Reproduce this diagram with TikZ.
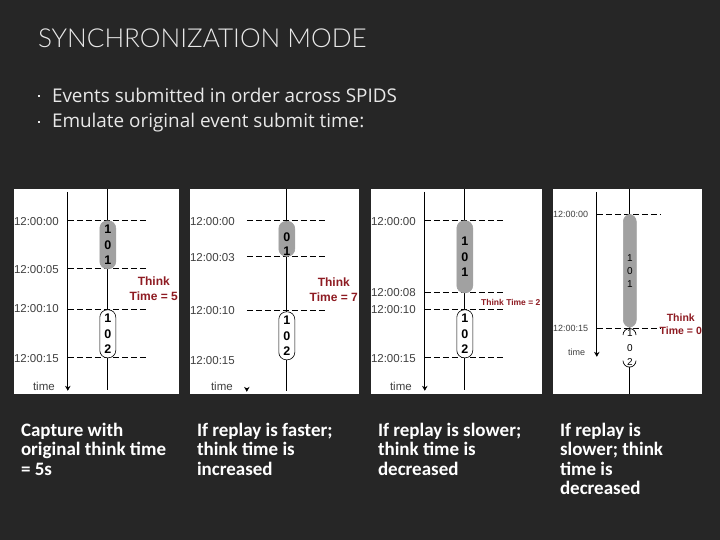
\documentclass[tikz,border=0pt]{standalone}
\usepackage{fontspec}
\setmainfont{Carlito}
\newfontfamily\titlefont{Lato Light}
\newfontfamily\bodyfont{Open Sans}
\newfontfamily\labelfont{Liberation Sans}
\usetikzlibrary{positioning}
\usetikzlibrary{arrows.meta}
\definecolor{slidebg}{HTML}{262626}
\definecolor{slidefg}{HTML}{E8E8E8}
\definecolor{thinkred}{HTML}{8E1B22}
\tikzstyle{panel}=[draw=none,fill=white,inner sep=0mm,anchor=north west]
\tikzstyle{clock}=[inner sep=0mm,anchor=west,font=\labelfont\fontsize{11.5}{12}\selectfont,text=black!75]
\tikzstyle{job}=[rectangle,rounded corners=7.5pt,draw=black,line width=0.6pt,inner sep=0mm,minimum width=16pt,font=\labelfont\bfseries\fontsize{12.5}{15.5}\selectfont,align=center]
\tikzstyle{busy}=[job,fill=black!37,draw=black!37]
\tikzstyle{idle}=[job,fill=white]
\tikzstyle{think}=[inner sep=0mm,align=center,font=\labelfont\bfseries\fontsize{12}{15}\selectfont,text=thinkred]
\tikzstyle{caption}=[inner sep=0mm,anchor=north west,align=left,font=\fontsize{19}{19.5}\selectfont\bfseries,text=white]
\tikzstyle{point}=[inner sep=0mm,anchor=west,text=slidefg,font=\bodyfont\fontsize{18.9}{21}\selectfont]
\tikzstyle{tick}=[dash pattern=on 6pt off 3pt,line width=0.7pt]
\tikzstyle{axis}=[-{Stealth[length=5pt,width=5.5pt]},line width=0.7pt]
\tikzstyle{wire}=[line width=0.7pt]
\begin{document}
\begin{tikzpicture}[x=1pt,y=-1pt]
    \node[inner sep=0mm,minimum width=720pt,minimum height=540pt,fill=slidebg,anchor=north west] at (0,0) (slide) {};
    \node[inner sep=0mm,anchor=west,text=slidefg,font=\titlefont\fontsize{26.1}{30}\selectfont] at (38,38.5) (title) {SYNCHRONIZATION MODE};
    \node[point] at (52,96) (point1) {Events submitted in order across SPIDS};
    \node[point] at (52,122.5) (point2) {Emulate original event submit time:};
    \node[rectangle,fill=slidefg,inner sep=0mm,minimum size=2.5pt] at (39,96) (bullet1) {};
    \node[rectangle,fill=slidefg,inner sep=0mm,minimum size=2.5pt] at (39,122) (bullet2) {};

    % capture
    \node[panel,minimum width=165pt,minimum height=205pt] at (14,189) (panelA) {};
    \coordinate (axisAtop) at (68,192);
    \coordinate (axisAend) at (68,391);
    \coordinate (wireAtop) at (108,189);
    \coordinate (wireAend) at (108,390);
    \draw[axis] (axisAtop) -- (axisAend);
    \draw[wire] (wireAtop) -- (wireAend);
    \foreach \name/\y in {a/221,b/269,c/310,d/358}{
      \coordinate (tickA\name) at (68,\y);
      \coordinate (endA\name) at (147,\y);
      \draw[tick] (tickA\name) -- (endA\name);
    }
    \node[clock] at (14,222) (clockAa) {12:00:00};
    \node[clock] at (14,270) (clockAb) {12:00:05};
    \node[clock] at (14,309) (clockAc) {12:00:10};
    \node[clock] at (14,359) (clockAd) {12:00:15};
    \node[busy,minimum height=48pt] at (108,245) (jobA1) {1\\0\\1};
    \node[idle,minimum height=48pt] at (108,334) (jobA2) {1\\0\\2};
    \node[think] at (154,289) (thinkA) {Think\\Time = 5};
    \node[clock] at (33,387) (timeA) {time};

    % replay faster
    \node[panel,minimum width=169pt,minimum height=205pt] at (190,189) (panelB) {};
    \coordinate (wireBtop) at (287,189);
    \coordinate (wireBend) at (287,391);
    \draw[wire] (wireBtop) -- (wireBend);
    \foreach \name/\y in {a/221,b/257,c/311}{
      \coordinate (tickB\name) at (247,\y);
      \coordinate (endB\name) at (326,\y);
      \draw[tick] (tickB\name) -- (endB\name);
    }
    \node[clock] at (190,222) (clockBa) {12:00:00};
    \node[clock] at (190,258) (clockBb) {12:00:03};
    \node[clock] at (190,311) (clockBc) {12:00:10};
    \node[clock] at (190,361) (clockBd) {12:00:15};
    \node[busy,minimum height=35pt,text height=0pt,text depth=0pt] at (287,239) (jobB1) {};
    \node[inner sep=0mm,font=\labelfont\bfseries\fontsize{12.5}{14}\selectfont,align=center] at (287,244) (digitsB1) {0\\1};
    \node[idle,minimum height=48pt] at (287,336) (jobB2) {1\\0\\2};
    \node[think] at (334,290) (thinkB) {Think\\Time = 7};
    \node[clock] at (211,387) (timeB) {time};
    \coordinate (axisBtop) at (247,388);
    \coordinate (axisBend) at (247,392);
    \draw[axis] (axisBtop) -- (axisBend);

    % replay slower
    \node[panel,minimum width=171pt,minimum height=205pt] at (371,189) (panelC) {};
    \coordinate (axisCtop) at (425,192);
    \coordinate (axisCend) at (425,391);
    \coordinate (wireCtop) at (465,189);
    \coordinate (wireCend) at (465,390);
    \draw[axis] (axisCtop) -- (axisCend);
    \draw[wire] (wireCtop) -- (wireCend);
    \foreach \name/\y in {a/221,b/293,c/310,d/358}{
      \coordinate (tickC\name) at (425,\y);
      \coordinate (endC\name) at (503,\y);
      \draw[tick] (tickC\name) -- (endC\name);
    }
    \node[clock] at (371,222) (clockCa) {12:00:00};
    \node[clock] at (371,293) (clockCb) {12:00:08};
    \node[clock] at (371,310) (clockCc) {12:00:10};
    \node[clock] at (371,359) (clockCd) {12:00:15};
    \node[busy,minimum height=72pt] at (465,257) (jobC1) {1\\0\\1};
    \node[idle,minimum height=48pt] at (465,334) (jobC2) {1\\0\\2};
    \node[think,font=\labelfont\bfseries\fontsize{8.5}{9}\selectfont] at (511,303) (thinkC) {Think Time = 2};
    \node[clock] at (390,387) (timeC) {time};

    % replay slower, no think time left
    \node[panel,minimum width=149pt,minimum height=205pt] at (553,189) (panelD) {};
    \coordinate (axisDtop) at (597,192);
    \coordinate (axisDend) at (597,357);
    \coordinate (wireDtop) at (630,189);
    \coordinate (wireDend) at (630,394);
    \draw[axis] (axisDtop) -- (axisDend);
    \draw[wire] (wireDtop) -- (wireDend);
    \coordinate (tickDa) at (597,215);
    \coordinate (endDa) at (661,215);
    \coordinate (tickDb) at (597,329);
    \coordinate (endDb) at (661,329);
    \draw[tick] (tickDa) -- (endDa);
    \draw[tick] (tickDb) -- (endDb);
    \node[clock,font=\labelfont\fontsize{9}{10}\selectfont] at (553,215) (clockDa) {12:00:00};
    \node[clock,font=\labelfont\fontsize{9}{10}\selectfont] at (553,329) (clockDb) {12:00:15};
    \node[busy,minimum height=113pt,minimum width=13pt,font=\labelfont\fontsize{10}{13}\selectfont] at (630,271) (jobD1) {1\\0\\1};
    \node[idle,draw=none,minimum height=38pt,minimum width=13pt,font=\labelfont\fontsize{10}{14.5}\selectfont] at (630,348) (jobD2) {1\\0\\2};
    \draw[wire] (jobD2.north west) ++(0,6.5) arc[start angle=180,end angle=0,radius=6.5pt];
    \draw[wire] (jobD2.south west) ++(0,-6.5) arc[start angle=180,end angle=360,radius=6.5pt];
    \node[think,font=\labelfont\bfseries\fontsize{10.5}{13}\selectfont] at (681,324) (thinkD) {Think\\Time = 0};
    \node[clock,font=\labelfont\fontsize{9}{10}\selectfont] at (568,352) (timeD) {time};

    \node[caption] at (21,423) (captionA) {Capture with\\original think time\\= 5s};
    \node[caption] at (197,423) (captionB) {If replay is faster;\\think time is\\increased};
    \node[caption] at (378,423) (captionC) {If replay is slower;\\think time is\\decreased};
    \node[caption] at (560,423) (captionD) {If replay is\\slower; think\\time is\\decreased};
\end{tikzpicture}
\end{document}
